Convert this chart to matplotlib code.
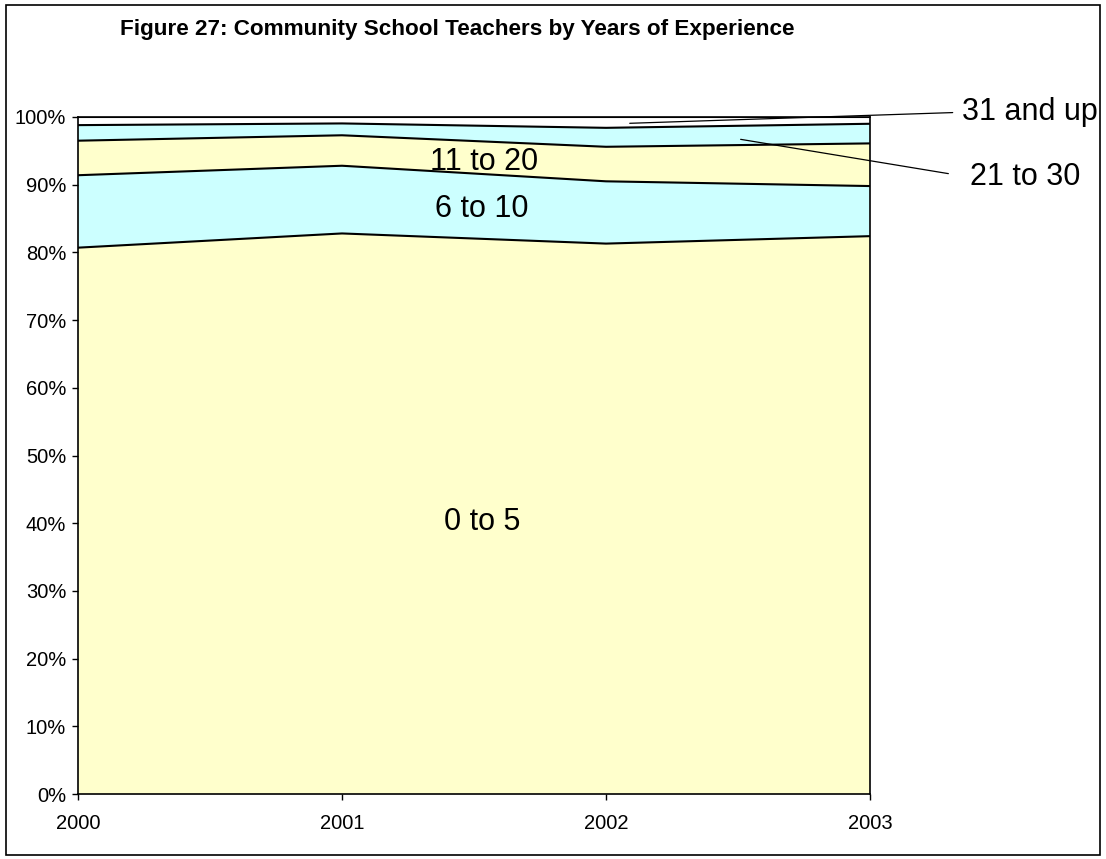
import matplotlib
matplotlib.use("Agg")
import matplotlib.pyplot as plt
from matplotlib.patches import Rectangle
import numpy as np

years = [2000, 2001, 2002, 2003]
cats = ["0 to 5", "6 to 10", "11 to 20", "21 to 30", "31 and up"]
v0_5 = [80.7, 82.8, 81.3, 82.4]
v6_10 = [10.7, 10.0, 9.2, 7.4]
v11_20 = [5.1, 4.5, 5.1, 6.3]
v21_30 = [2.3, 1.75, 2.8, 2.9]
v31_up = [1.2, 0.95, 1.6, 1.0]
colors = ["#FFFFCC", "#CCFFFF", "#FFFFCC", "#CCFFFF", "#FFFFFF"]

plt.rcParams['font.family'] = ['Liberation Sans', 'DejaVu Sans']
fig = plt.figure(figsize=(11.06, 8.59), dpi=100)
fig.patches.append(Rectangle((6 / 1106, 4 / 859), 1094 / 1106, 850 / 859,
                             transform=fig.transFigure, fill=False,
                             edgecolor='black', linewidth=1.2))
ax = fig.add_axes([78 / 1106, 1 - 794 / 859, 792 / 1106, 677 / 859])

series = [v0_5, v6_10, v11_20, v21_30, v31_up]
cum = np.zeros(len(years))
for vals, c in zip(series, colors):
    top = cum + np.array(vals)
    ax.fill_between(years, cum, top, facecolor=c, edgecolor='none')
    ax.plot(years, top, color='black', linewidth=1.5)
    cum = top

ax.set_xlim(2000, 2003)
ax.set_ylim(0, 100)
ax.set_xticks(years)
ax.set_xticklabels([str(y) for y in years], fontsize=14.5)
ax.set_yticks(range(0, 101, 10))
ax.set_yticklabels([f"{t}%" for t in range(0, 101, 10)], fontsize=14.5)
ax.tick_params(direction='out', length=4.5, width=1)
ax.tick_params(axis='x', pad=10)
ax.tick_params(axis='y', pad=4)
for s in ax.spines.values():
    s.set_linewidth(1.2)

ax.text(2001.53, 40.2, "0 to 5", fontsize=22, ha='center', va='center')
ax.text(2001.53, 86.4, "6 to 10", fontsize=22, ha='center', va='center')
ax.text(2001.54, 93.4, "11 to 20", fontsize=22, ha='center', va='center')

# callouts
ax.annotate("31 and up", xy=(2002.09, 99.07), xytext=(2003.35, 100.7),
            fontsize=22, ha='left', va='center', annotation_clip=False,
            arrowprops=dict(arrowstyle='-', color='black', linewidth=0.9,
                            shrinkA=5, shrinkB=0, relpos=(0, 0.5)))
ax.annotate("21 to 30", xy=(2002.51, 96.7), xytext=(2003.38, 91.1),
            fontsize=22, ha='left', va='center', annotation_clip=False,
            arrowprops=dict(arrowstyle='-', color='black', linewidth=0.9,
                            shrinkA=14, shrinkB=0, relpos=(0, 0.5)))

fig.text(120 / 1106, 1 - 30 / 859,
         "Figure 27: Community School Teachers by Years of Experience",
         fontsize=16.2, fontweight='bold', ha='left', va='center')

fig.savefig("out.png", dpi=100)
